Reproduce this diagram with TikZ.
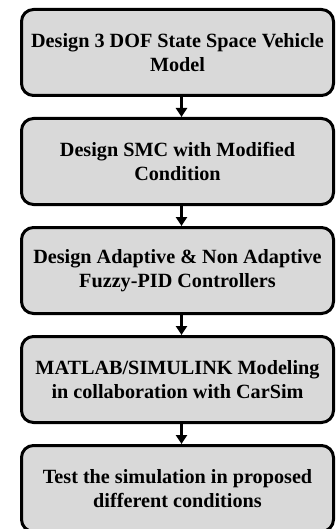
\documentclass[tikz,border=0pt]{standalone}
\usepackage{fontspec}
\setmainfont{Liberation Serif}
\usetikzlibrary{positioning,arrows.meta}
\begin{document}
\begin{tikzpicture}[x=1pt, y=1pt, node distance={109pt}, main/.style = {draw, line width=3pt, rounded corners=12pt, fill=black!15, minimum width=312pt, minimum height=86pt, align=center, font=\fontsize{20.2}{24}\selectfont\bfseries}, flow/.style = {-{Triangle[length=9pt,width=11pt]}, line width=3pt}]
    \useasboundingbox (0,0) rectangle (336,-529);
    % Blocchi del diagramma
    \node[main] (1) at (177.5,-52.5) {Design 3 DOF State Space Vehicle\\Model};
    \node[main] (2) [below of=1] {Design SMC with Modified\\Condition};
    \node[main] (3) [below of=2] {Design Adaptive \& Non Adaptive\\Fuzzy-PID Controllers};
    \node[main] (4) [below of=3] {MATLAB/SIMULINK Modeling\\in collaboration with CarSim};
    \node[main] (5) [below of=4] {Test the simulation in proposed\\different conditions};
    % Frecce tra i blocchi
    \draw[flow] ([xshift=4pt]1.south) to ([xshift=4pt]2.north);
    \draw[flow] ([xshift=4pt]2.south) to ([xshift=4pt]3.north);
    \draw[flow] ([xshift=4pt]3.south) to ([xshift=4pt]4.north);
    \draw[flow] ([xshift=4pt]4.south) to ([xshift=4pt]5.north);
\end{tikzpicture}
\end{document}
